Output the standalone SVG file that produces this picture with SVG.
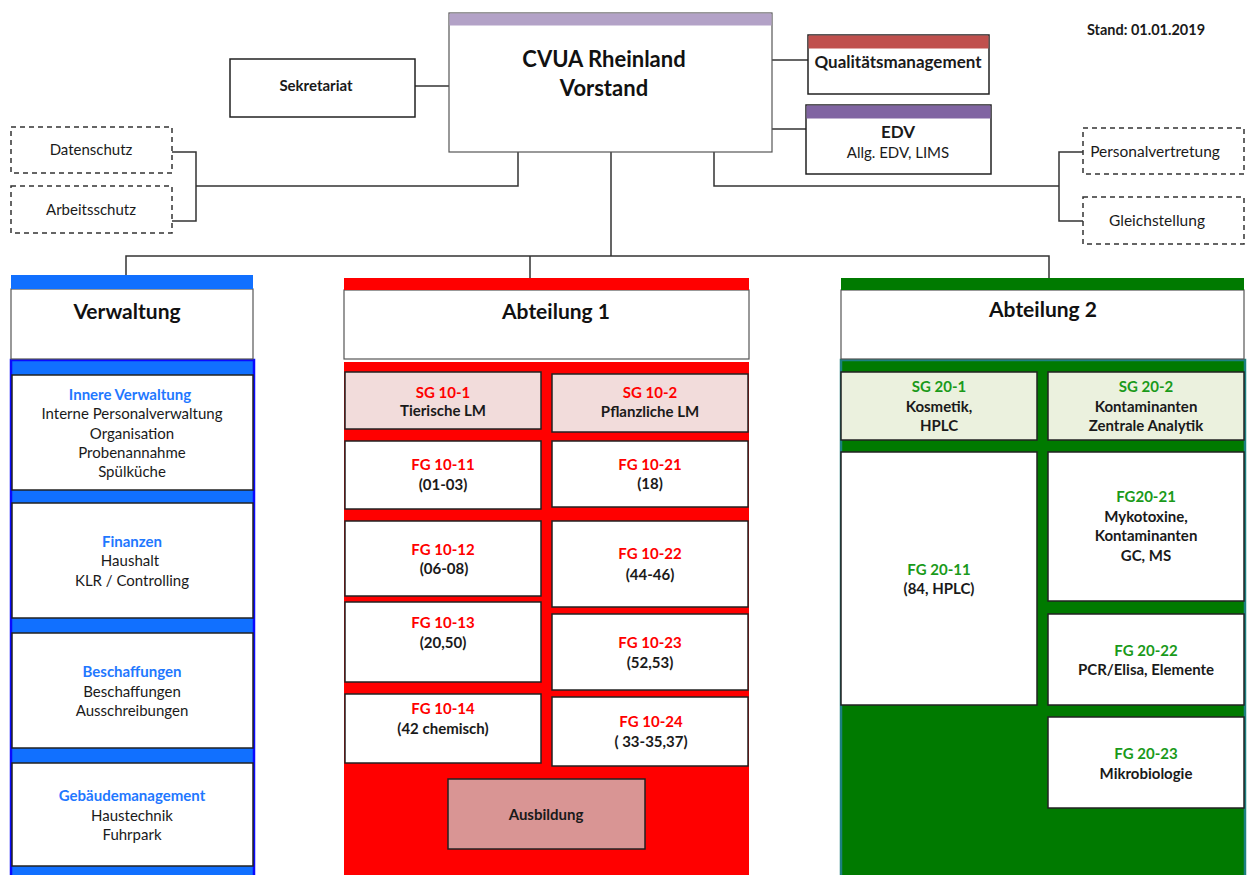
<svg xmlns="http://www.w3.org/2000/svg" width="1247" height="875" viewBox="0 0 1247 875">
<style>
text{font-family:Lato,"Open Sans","Liberation Sans",sans-serif;text-anchor:middle;font-size:15px;fill:#1a1a1a}
.b{font-weight:bold}
.h{font-weight:bold;font-size:21px;fill:#111}
.red{fill:#ff0000;font-weight:bold}
.grn{fill:#1a9a1a;font-weight:bold}
.blu{fill:#1f78ff;font-weight:bold}
.box{fill:#fff;stroke:#222;stroke-width:1.5}
.hbox{fill:#fff;stroke:#555;stroke-width:1.2}
.dash{fill:#fff;stroke:#333;stroke-width:1.5;stroke-dasharray:5 4}
.ln{fill:none;stroke:#333;stroke-width:1.5}
</style>
<rect width="1247" height="875" fill="#fff"/>
<g id="connectors">
<path class="ln" d="M415 86H449"/>
<path class="ln" d="M772 60H808"/>
<path class="ln" d="M772 129H806"/>
<path class="ln" d="M172 152H196V221H172M196 186H518V152"/>
<path class="ln" d="M714 152V186H1059M1083 152H1059V221H1083"/>
<path class="ln" d="M611 152V256M126 276V256H1049V278M530 256V278"/>
</g>
<g id="stand"><text x="1146" y="35" class="b" style="font-size:14.5px">Stand: 01.01.2019</text></g>
<g id="vorstand">
<rect x="449" y="13" width="323" height="139" class="hbox"/>
<rect x="449.5" y="13.5" width="322" height="12" fill="#b3a2c7"/>
<text x="604" y="67" class="h" style="font-size:22px">CVUA Rheinland</text>
<text x="604" y="96" class="h" style="font-size:22px">Vorstand</text>
</g>
<g id="sekretariat">
<rect x="230" y="59" width="185" height="58" class="box"/>
<text x="316" y="91" class="b">Sekretariat</text>
</g>
<g id="qm">
<rect x="808" y="35" width="181" height="59" class="box"/>
<rect x="808.5" y="35.5" width="180" height="13" fill="#c0504d"/>
<text x="898" y="68" class="b" style="font-size:17px">Qualitätsmanagement</text>
</g>
<g id="edv">
<rect x="806" y="105" width="185" height="69" class="box"/>
<rect x="806.5" y="105.5" width="184" height="13" fill="#8064a2"/>
<text x="898" y="138" class="b" style="font-size:17px">EDV</text>
<text x="898" y="158">Allg. EDV, LIMS</text>
</g>
<g id="datenschutz">
<rect x="11" y="127" width="161" height="46" class="dash"/>
<text x="91" y="155">Datenschutz</text>
</g>
<g id="arbeitsschutz">
<rect x="11" y="186" width="161" height="47" class="dash"/>
<text x="91" y="215">Arbeitsschutz</text>
</g>
<g id="personalvertretung">
<rect x="1083" y="128" width="161" height="46" class="dash"/>
<text x="1155" y="157" style="font-size:15.5px">Personalvertretung</text>
</g>
<g id="gleichstellung">
<rect x="1083" y="197" width="161" height="47" class="dash"/>
<text x="1157" y="226" style="font-size:15.5px">Gleichstellung</text>
</g>

<g id="verwaltung">
<rect x="11" y="360" width="243" height="520" fill="#1170ff" stroke="#0a0aff" stroke-width="2.5"/>
<rect x="11" y="289" width="242" height="70" class="hbox"/>
<rect x="11" y="275" width="242" height="14" fill="#1170ff"/>
<text x="127" y="319" class="h">Verwaltung</text>
</g>
<g id="innere-verwaltung">
<rect x="12" y="375" width="241" height="115" class="box"/>
<text x="130" y="400" class="blu">Innere Verwaltung</text>
<text x="132" y="419">Interne Personalverwaltung</text>
<text x="132" y="439">Organisation</text>
<text x="132" y="458">Probenannahme</text>
<text x="132" y="477">Spülküche</text>
</g>
<g id="finanzen">
<rect x="12" y="503" width="241" height="115" class="box"/>
<text x="132" y="547" class="blu">Finanzen</text>
<text x="130" y="566">Haushalt</text>
<text x="132" y="586">KLR / Controlling</text>
</g>
<g id="beschaffungen">
<rect x="12" y="633" width="241" height="115" class="box"/>
<text x="132" y="677" class="blu">Beschaffungen</text>
<text x="132" y="697">Beschaffungen</text>
<text x="132" y="716">Ausschreibungen</text>
</g>
<g id="gebaeudemanagement">
<rect x="12" y="763" width="241" height="103" class="box"/>
<text x="132" y="801" class="blu">Gebäudemanagement</text>
<text x="132" y="821">Haustechnik</text>
<text x="132" y="840">Fuhrpark</text>
</g>

<g id="abteilung1">
<rect x="344" y="362" width="405" height="515" fill="#ff0000"/>
<rect x="344" y="290" width="405" height="69" class="hbox"/>
<rect x="344" y="278" width="405" height="12" fill="#ff0000"/>
<text x="556" y="319" class="h">Abteilung 1</text>
</g>
<g id="sg10-1">
<rect x="345" y="372" width="196" height="57" fill="#f2dcdb" stroke="#222" stroke-width="1.5"/>
<text x="443" y="398" class="red">SG 10-1</text>
<text x="443" y="416" class="b">Tierische LM</text>
</g>
<g id="sg10-2">
<rect x="552" y="374" width="196" height="58" fill="#f2dcdb" stroke="#222" stroke-width="1.5"/>
<text x="650" y="398" class="red">SG 10-2</text>
<text x="650" y="417" class="b">Pflanzliche LM</text>
</g>
<g id="fg10-11">
<rect x="345" y="441" width="196" height="68" class="box"/>
<text x="443" y="470" class="red">FG 10-11</text>
<text x="443" y="490" class="b">(01-03)</text>
</g>
<g id="fg10-21">
<rect x="552" y="441" width="196" height="66" class="box"/>
<text x="650" y="470" class="red">FG 10-21</text>
<text x="650" y="489" class="b">(18)</text>
</g>
<g id="fg10-12">
<rect x="345" y="521" width="196" height="75" class="box"/>
<text x="443" y="555" class="red">FG 10-12</text>
<text x="444" y="574" class="b">(06-08)</text>
</g>
<g id="fg10-22">
<rect x="552" y="521" width="196" height="86" class="box"/>
<text x="650" y="559" class="red">FG 10-22</text>
<text x="650" y="580" class="b">(44-46)</text>
</g>
<g id="fg10-13">
<rect x="345" y="602" width="196" height="80" class="box"/>
<text x="443" y="628" class="red">FG 10-13</text>
<text x="443" y="648" class="b">(20,50)</text>
</g>
<g id="fg10-23">
<rect x="552" y="614" width="196" height="76" class="box"/>
<text x="650" y="648" class="red">FG 10-23</text>
<text x="650" y="668" class="b">(52,53)</text>
</g>
<g id="fg10-14">
<rect x="345" y="694" width="196" height="69" class="box"/>
<text x="443" y="714" class="red">FG 10-14</text>
<text x="443" y="734" class="b">(42 chemisch)</text>
</g>
<g id="fg10-24">
<rect x="552" y="697" width="196" height="69" class="box"/>
<text x="651" y="727" class="red">FG 10-24</text>
<text x="651" y="747" class="b">( 33-35,37)</text>
</g>
<g id="ausbildung">
<rect x="448" y="779" width="197" height="70" fill="#d99594" stroke="#222" stroke-width="1.5"/>
<text x="546" y="820" class="b">Ausbildung</text>
</g>

<g id="abteilung2">
<rect x="841" y="360" width="404" height="520" fill="#007a00" stroke="#1c8080" stroke-width="2.5"/>
<rect x="841" y="290" width="403" height="69" class="hbox"/>
<rect x="841" y="278" width="403" height="12" fill="#007a00"/>
<text x="1043" y="317" class="h">Abteilung 2</text>
</g>
<g id="sg20-1">
<rect x="841" y="372" width="196" height="68" fill="#ebf1de" stroke="#222" stroke-width="1.5"/>
<text x="939" y="392" class="grn">SG 20-1</text>
<text x="939" y="412" class="b">Kosmetik,</text>
<text x="939" y="431" class="b">HPLC</text>
</g>
<g id="sg20-2">
<rect x="1048" y="372" width="196" height="68" fill="#ebf1de" stroke="#222" stroke-width="1.5"/>
<text x="1146" y="392" class="grn">SG 20-2</text>
<text x="1146" y="412" class="b">Kontaminanten</text>
<text x="1146" y="431" class="b">Zentrale Analytik</text>
</g>
<g id="fg20-11">
<rect x="841" y="452" width="196" height="253" class="box"/>
<text x="939" y="575" class="grn">FG 20-11</text>
<text x="939" y="594" class="b">(84, HPLC)</text>
</g>
<g id="fg20-21">
<rect x="1048" y="452" width="196" height="149" class="box"/>
<text x="1146" y="502" class="grn">FG20-21</text>
<text x="1146" y="522" class="b">Mykotoxine,</text>
<text x="1146" y="541" class="b">Kontaminanten</text>
<text x="1146" y="561" class="b">GC, MS</text>
</g>
<g id="fg20-22">
<rect x="1048" y="614" width="196" height="91" class="box"/>
<text x="1146" y="656" class="grn">FG 20-22</text>
<text x="1146" y="675" class="b">PCR/Elisa, Elemente</text>
</g>
<g id="fg20-23">
<rect x="1048" y="717" width="196" height="91" class="box"/>
<text x="1146" y="759" class="grn">FG 20-23</text>
<text x="1146" y="779" class="b">Mikrobiologie</text>
</g>
</svg>
